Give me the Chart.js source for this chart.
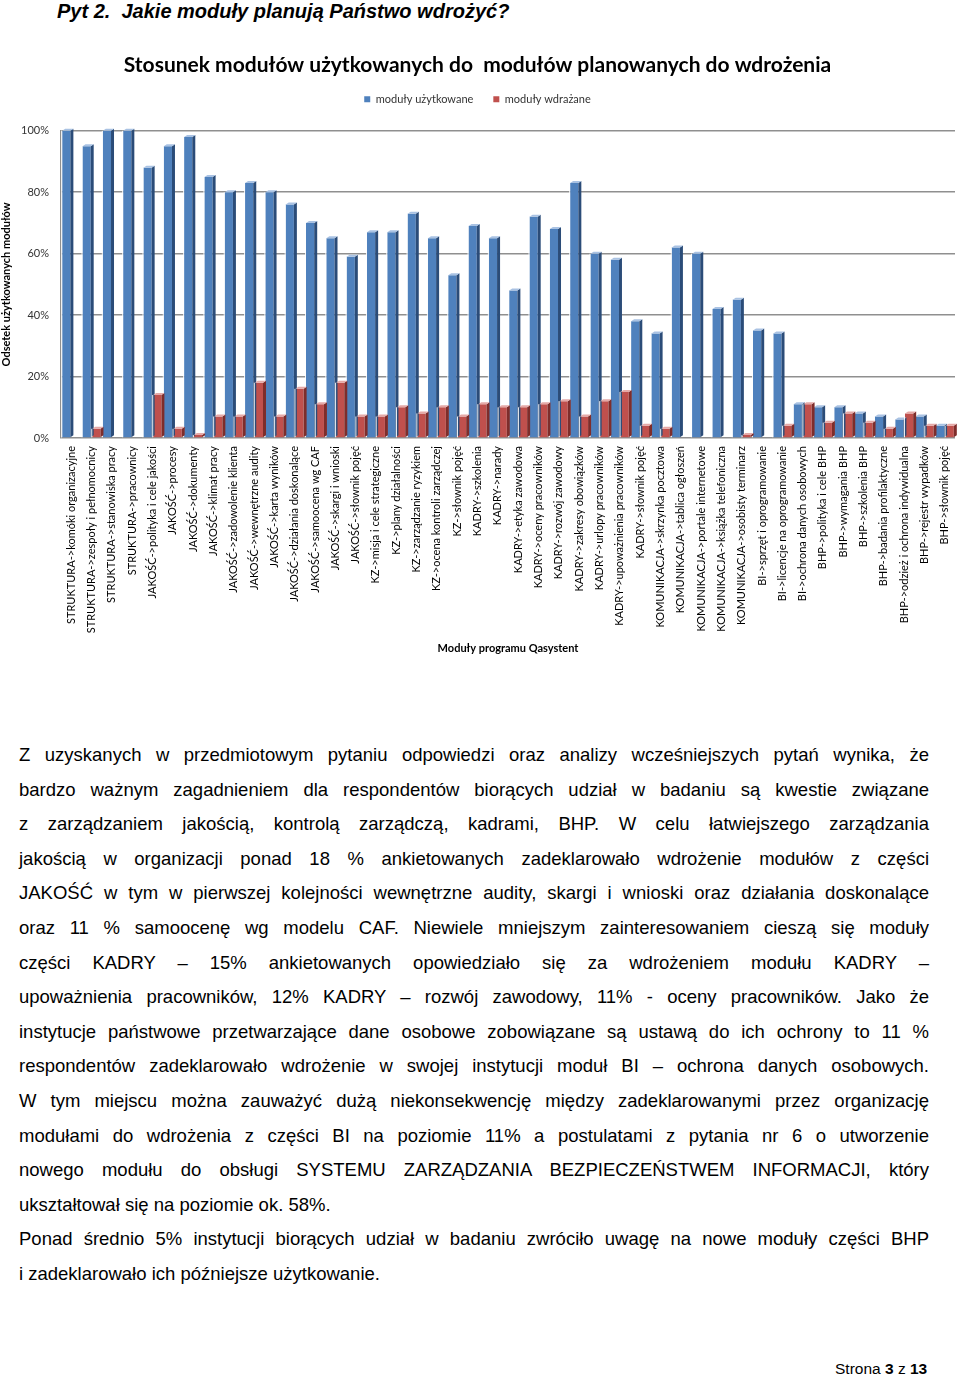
<!DOCTYPE html>
<html>
<head>
<meta charset="utf-8">
<script src="https://cdn.jsdelivr.net/npm/chart.js@4.4.1/dist/chart.umd.min.js"></script>
<style>
  html, body { margin: 0; padding: 0; background: #fff; }
  body { width: 960px; height: 1376px; position: relative; overflow: hidden; font-family: "Liberation Sans", Arial, sans-serif; color: #000; }
  #hdr { position: absolute; left: 57px; top: 0px; font-size: 20px; font-weight: bold; font-style: italic; white-space: pre; }
  #wrap { position: absolute; left: 0; top: 40px; width: 960px; height: 625px; }
  #txt { position: absolute; left: 19px; top: 738px; width: 910px; font-size: 18.5px; line-height: 34.6px; }
  #txt div { text-align: justify; text-align-last: justify; white-space: nowrap; }
  #txt div.last { text-align-last: left; }
  #foot { position: absolute; left: 835px; top: 1360px; font-size: 15.5px; white-space: pre; }
</style>
</head>
<body>
<div id="hdr">Pyt 2.  Jakie moduły planują Państwo wdrożyć?</div>
<div id="wrap"><canvas id="c" width="960" height="625"></canvas></div>
<div id="txt">
<div>Z uzyskanych w przedmiotowym pytaniu odpowiedzi oraz analizy wcześniejszych pytań wynika, że</div>
<div>bardzo ważnym zagadnieniem dla respondentów biorących udział w badaniu są kwestie związane</div>
<div>z zarządzaniem jakością, kontrolą zarządczą, kadrami, BHP. W celu łatwiejszego zarządzania</div>
<div>jakością w organizacji ponad 18 % ankietowanych zadeklarowało wdrożenie modułów z części</div>
<div>JAKOŚĆ w tym w pierwszej kolejności wewnętrzne audity, skargi i wnioski oraz działania doskonalące</div>
<div>oraz 11 % samoocenę wg modelu CAF. Niewiele mniejszym zainteresowaniem cieszą się moduły</div>
<div>części KADRY – 15% ankietowanych opowiedziało się za wdrożeniem modułu KADRY –</div>
<div>upoważnienia pracowników, 12% KADRY – rozwój zawodowy, 11% - oceny pracowników. Jako że</div>
<div>instytucje państwowe przetwarzające dane osobowe zobowiązane są ustawą do ich ochrony to 11 %</div>
<div>respondentów zadeklarowało wdrożenie w swojej instytucji moduł BI – ochrona danych osobowych.</div>
<div>W tym miejscu można zauważyć dużą niekonsekwencję między zadeklarowanymi przez organizację</div>
<div>modułami do wdrożenia z części BI na poziomie 11% a postulatami z pytania nr 6 o utworzenie</div>
<div>nowego modułu do obsługi SYSTEMU ZARZĄDZANIA BEZPIECZEŃSTWEM INFORMACJI, który</div>
<div class="last">ukształtował się na poziomie ok. 58%.</div>
<div>Ponad średnio 5% instytucji biorących udział w badaniu zwróciło uwagę na nowe moduły części BHP</div>
<div class="last">i zadeklarowało ich późniejsze użytkowanie.</div>
</div>
<div id="foot">Strona <b>3</b> z <b>13</b></div>
<script>
const categories = [
  "STRUKTURA->komóki organizacyjne",
  "STRUKTURA->zespoły i pełnomocnicy",
  "STRUKTURA->stanowiska pracy",
  "STRUKTURA->pracownicy",
  "JAKOŚĆ->polityka i cele jakości",
  "JAKOŚĆ->procesy",
  "JAKOŚĆ->dokumenty",
  "JAKOŚĆ->klimat pracy",
  "JAKOŚĆ->zadowolenie klienta",
  "JAKOŚĆ->wewnętrzne audity",
  "JAKOŚĆ->karta wyników",
  "JAKOŚĆ->działania doskonalące",
  "JAKOŚĆ->samoocena wg CAF",
  "JAKOŚĆ->skargi i wnioski",
  "JAKOŚĆ->słownik pojęć",
  "KZ->misja i cele strategiczne",
  "KZ->plany działalności",
  "KZ->zarządzanie ryzykiem",
  "KZ->ocena kontroli zarządczej",
  "KZ->słownik pojęć",
  "KADRY->szkolenia",
  "KADRY->narady",
  "KADRY->etyka zawodowa",
  "KADRY->oceny pracowników",
  "KADRY->rozwój zawodowy",
  "KADRY->zakresy obowiązków",
  "KADRY->urlopy pracowników",
  "KADRY->upoważnienia pracowników",
  "KADRY->słownik pojęć",
  "KOMUNIKACJA->skrzynka pocztowa",
  "KOMUNIKACJA->tablica ogłoszeń",
  "KOMUNIKACJA->portale internetowe",
  "KOMUNIKACJA->książka telefoniczna",
  "KOMUNIKACJA->osobisty terminarz",
  "BI->sprzęt i oprogramowanie",
  "BI->licencje na oprogramowanie",
  "BI->ochrona danych osobowych",
  "BHP->polityka i cele BHP",
  "BHP->wymagania BHP",
  "BHP->szkolenia BHP",
  "BHP->badania profilaktyczne",
  "BHP->odzież i ochrona indywidualna",
  "BHP->rejestr wypadków",
  "BHP->słownik pojęć"
];
const usedValues = [100, 95, 100, 100, 88, 95, 98, 85, 80, 83, 80, 76, 70, 65, 59, 67, 67, 73, 65, 53, 69, 65, 48, 72, 68, 83, 60, 58, 38, 34, 62, 60, 42, 45, 35, 34, 11, 10, 10, 8, 7, 6, 7, 4];
const plannedValues = [0, 3, 0, 0, 14, 3, 1, 7, 7, 18, 7, 16, 11, 18, 7, 7, 10, 8, 10, 7, 11, 10, 10, 11, 12, 7, 12, 15, 4, 3, 0, 0, 0, 1, 0, 4, 11, 5, 8, 5, 3, 8, 4, 4];
const seriesNames = ["moduły użytkowane", "moduły wdrażane"];
const yTicks = [0, 20, 40, 60, 80, 100];
const chartTitle = "Stosunek modułów użytkowanych do  modułów planowanych do wdrożenia";
const yTitle = "Odsetek użytkowanych modułów";
const xTitle = "Moduły programu Qasystent";

const faceColors = ["#4F81BD", "#C0504D"];
const sideColors = ["#2B4C78", "#7E2D2B"];
const topColors = ["#A9C2E3", "#E5A9A7"];

const bars3d = {
  id: "bars3d",
  afterDatasetsDraw(chart) {
    const ctx = chart.ctx;
    const dx = 3, dy = 2;
    chart.data.datasets.forEach((ds, di) => {
      const meta = chart.getDatasetMeta(di);
      meta.data.forEach((el, i) => {
        const v = ds.data[i];
        const w = el.width, l = el.x - w / 2, r = el.x + w / 2, t = el.y, b = el.base;
        ctx.save();
        if (v > 0) {
          ctx.fillStyle = sideColors[di];
          ctx.beginPath();
          ctx.moveTo(r, t); ctx.lineTo(r + dx, t - dy); ctx.lineTo(r + dx, b - dy); ctx.lineTo(r, b);
          ctx.closePath(); ctx.fill();
          ctx.fillStyle = topColors[di];
          ctx.beginPath();
          ctx.moveTo(l, t); ctx.lineTo(l + dx, t - dy); ctx.lineTo(r + dx, t - dy); ctx.lineTo(r, t);
          ctx.closePath(); ctx.fill();
          ctx.strokeStyle = "rgba(255,255,255,0.9)";
          ctx.lineWidth = 1;
          ctx.beginPath(); ctx.moveTo(l - 0.5, b); ctx.lineTo(l - 0.5, t); ctx.stroke();
        }
        ctx.restore();
      });
    });
  }
};

new Chart(document.getElementById("c"), {
  type: "bar",
  data: {
    labels: categories,
    datasets: [
      { label: seriesNames[0], data: usedValues, backgroundColor: faceColors[0], borderWidth: 0 },
      { label: seriesNames[1], data: plannedValues, backgroundColor: faceColors[1], borderWidth: 0 }
    ]
  },
  plugins: [bars3d],
  options: {
    responsive: false,
    animation: false,
    devicePixelRatio: 1,
    layout: { padding: { left: 0, right: 5, top: 0, bottom: 0 } },
    datasets: { bar: { categoryPercentage: 0.96, barPercentage: 0.84 } },
    plugins: {
      title: { display: true, text: chartTitle, color: "#000", font: { family: "Lato", size: 21, weight: "bold", lineHeight: 0.8 }, padding: { top: 17, bottom: 0 } },
      legend: {
        display: true,
        weight: 1600,
        labels: { boxWidth: 6, boxHeight: 6, color: "#333", font: { family: "Lato", size: 11 }, padding: 20 }
      },
      subtitle: { display: true, text: " ", font: { size: 1, lineHeight: 1 }, padding: { top: 0, bottom: 15 } },
      tooltip: { enabled: false }
    },
    scales: {
      y: {
        min: 0, max: 100,
        afterBuildTicks(s) { s.ticks = yTicks.map(v => ({ value: v })); },
        afterFit(s) { s.width = 61; },
        ticks: { callback: v => v + "%", color: "#333", font: { family: "Lato", size: 11 }, padding: 12 },
        grid: { color: "#8f8f8f", lineWidth: 1.5, drawTicks: false },
        border: { display: true, color: "#8f8f8f", width: 1.5 },
        title: { display: true, text: yTitle, color: "#000", font: { family: "Lato", size: 11, weight: "bold" }, padding: { top: 0, bottom: 4 } }
      },
      x: {
        afterFit(s) { s.height = 227; },
        ticks: { autoSkip: false, minRotation: 90, maxRotation: 90, color: "#000", font: { family: "Lato", size: 11 }, padding: 0 },
        grid: { display: false },
        border: { display: false },
        title: { display: true, text: xTitle, color: "#000", font: { family: "Lato", size: 11, weight: "bold" }, padding: { top: 4, bottom: 10 } }
      }
    }
  }
});
</script>
</body>
</html>
